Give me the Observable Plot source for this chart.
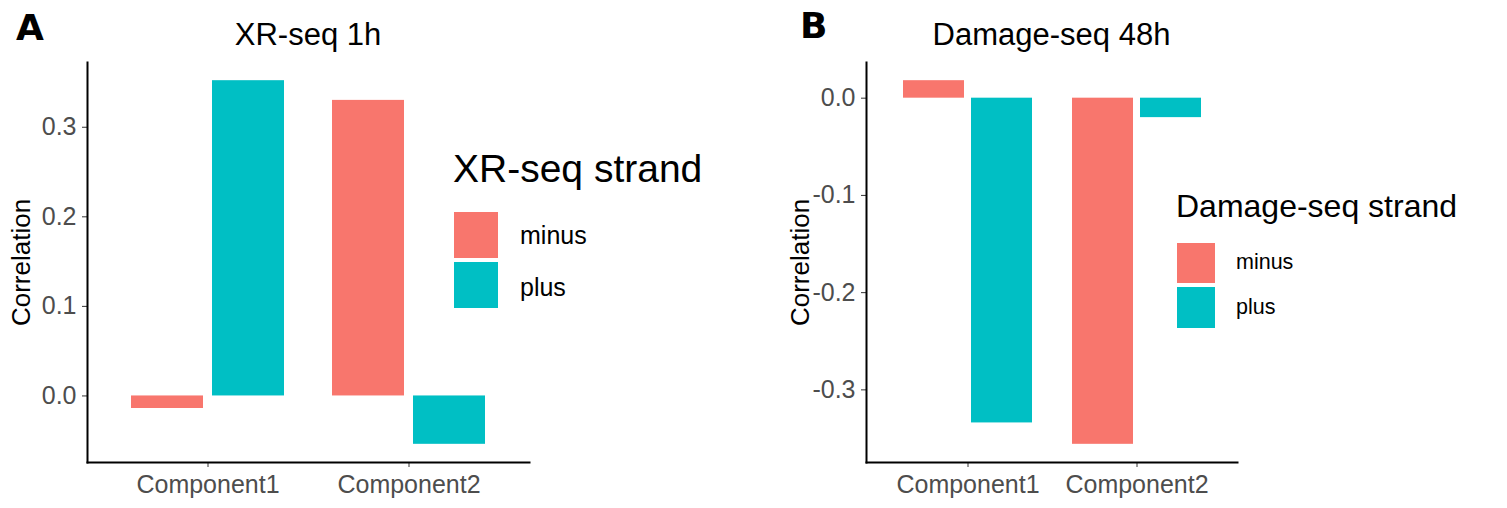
<!DOCTYPE html>
<html>
<head>
<meta charset="utf-8">
<script src="https://cdn.jsdelivr.net/npm/d3@7"></script>
<script src="https://cdn.jsdelivr.net/npm/@observablehq/plot@0.6"></script>
<style>
  body { margin: 0; background: #fff; }
  #wrap { position: relative; width: 1507px; height: 508px; overflow: hidden;
          font-family: "Liberation Sans", Arial, Helvetica, sans-serif; background: #fff; }
  .abs { position: absolute; line-height: 1; white-space: nowrap; color: #000; }
  .panel { position: absolute; top: 0; }
  .panel svg { font-family: "Liberation Sans", Arial, Helvetica, sans-serif; overflow: visible; }
  .panel [aria-label="y-axis tick label"], .panel [aria-label="x-axis tick label"] { fill: #4d4d4d; font-size: 25px; }
  .panel [aria-label="y-axis tick"], .panel [aria-label="x-axis tick"] { stroke: #333; }
  .panel [aria-label="y-axis label"] { fill: #000; font-size: 26px; }
  .letter { font-family: "DejaVu Sans", sans-serif; font-weight: 700; font-size: 36px; line-height: normal; }
  .title { font-size: 31px; text-align: center; }
  .key { position: absolute; }
</style>
</head>
<body>
<div id="wrap"></div>
<script>
// ---------------- data ----------------
const components = ["Component1", "Component2"];
const strands = ["minus", "plus"];
const strandColors = ["#F8766D", "#00BFC4"];

// Panel A: XR-seq 1h
const xrMinus = [-0.014, 0.330];
const xrPlus  = [0.352, -0.054];
const xrTicks = [0, 0.1, 0.2, 0.3];

// Panel B: Damage-seq 48h
const dmMinus = [0.018, -0.356];
const dmPlus  = [-0.334, -0.020];
const dmTicks = [0, -0.1, -0.2, -0.3];

const yLabel = "Correlation";

// ---------------- drawing ----------------
const wrap = document.getElementById("wrap");

function makePanel({minus, plus, ticks, left, width, marginLeft, marginRight, inset, labelOffset}) {
  const rows = components.flatMap((c, i) => [
    {component: c, strand: strands[0], value: minus[i]},
    {component: c, strand: strands[1], value: plus[i]}
  ]);
  const ext = d3.extent([0, ...rows.map(d => d.value)]);
  const pad = (ext[1] - ext[0]) * 0.05;
  const domain = [ext[0] - pad, ext[1] + pad];
  const chart = Plot.plot({
    width, height: 508,
    marginLeft, marginRight, marginTop: 62, marginBottom: 46,
    style: {fontSize: "25px", background: "transparent"},
    x: {domain: components, paddingInner: 0.237, paddingOuter: 0.214, label: null,
        tickSize: 5, tickPadding: 8},
    y: {domain, ticks, tickFormat: d => d.toFixed(1), label: yLabel, labelAnchor: "center",
        labelArrow: false, labelOffset, tickSize: 5, tickPadding: 6},
    color: {domain: strands, range: strandColors},
    marks: [
      Plot.barY(rows.filter(d => d.strand === strands[0]),
        {x: "component", y: "value", fill: "strand", insetRight: inset}),
      Plot.barY(rows.filter(d => d.strand === strands[1]),
        {x: "component", y: "value", fill: "strand", insetLeft: inset}),
      Plot.frame({anchor: "left", stroke: "#000", strokeWidth: 2}),
      Plot.frame({anchor: "bottom", stroke: "#000", strokeWidth: 2})
    ]
  });
  const holder = document.createElement("div");
  holder.className = "panel";
  holder.style.left = left + "px";
  holder.appendChild(chart);
  wrap.appendChild(holder);
  return chart;
}

function addText(txt, cls, style) {
  const d = document.createElement("div");
  d.className = "abs " + cls;
  d.textContent = txt;
  Object.assign(d.style, style);
  wrap.appendChild(d);
  return d;
}

function addLegend(title, x, titleTop, titleSize, keyTops, keyW, keyH, labelX, labelTops, labelSize) {
  addText(title, "", {left: x + "px", top: titleTop + "px", fontSize: titleSize + "px"});
  strands.forEach((s, i) => {
    const k = document.createElement("div");
    k.className = "key";
    Object.assign(k.style, {left: (x + 1) + "px", top: keyTops[i] + "px", width: keyW + "px",
      height: keyH[i] + "px", background: strandColors[i]});
    wrap.appendChild(k);
    addText(s, "", {left: labelX + "px", top: labelTops[i] + "px", fontSize: labelSize + "px"});
  });
}

// Panel A
makePanel({minus: xrMinus, plus: xrPlus, ticks: xrTicks, left: 0, width: 540,
  marginLeft: 87, marginRight: 11, inset: 81, labelOffset: 76});
// Panel B
makePanel({minus: dmMinus, plus: dmPlus, ticks: dmTicks, left: 760, width: 490,
  marginLeft: 106, marginRight: 13, inset: 68, labelOffset: 76});

// Panel letters
addText("A", "letter", {left: "16px", top: "7px"});
addText("B", "letter", {left: "800px", top: "5px"});

// Titles (centered over panel)
addText("XR-seq 1h", "title", {left: "87px", width: "442px", top: "19px"});
addText("Damage-seq 48h", "title", {left: "866px", width: "371px", top: "19px"});

// Legends
addLegend("XR-seq strand", 453, 149, 39, [212, 262], 44, [46, 46], 520, [223, 275], 25);
addLegend("Damage-seq strand", 1176, 190, 32, [243, 287], 38, [40, 41], 1236, [252, 297], 21.5);
</script>
</body>
</html>
